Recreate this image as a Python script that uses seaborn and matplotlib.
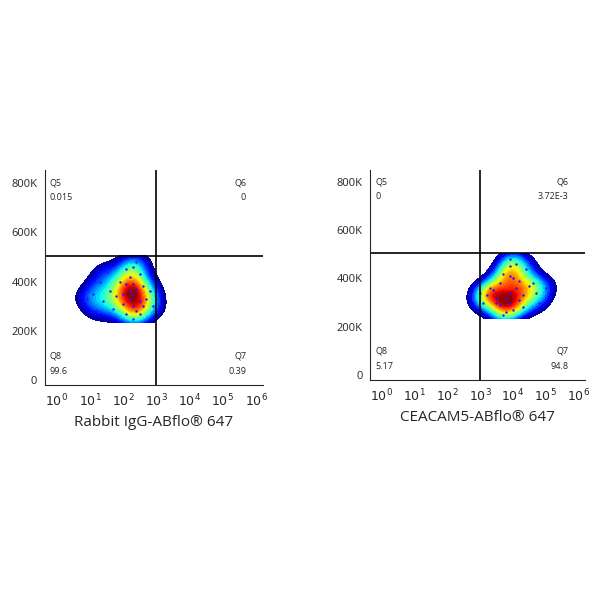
import numpy as np
import pandas as pd
import seaborn as sns
import matplotlib
matplotlib.use("Agg")
import matplotlib.pyplot as plt

sns.set_style("white")
plt.rcParams['font.family'] = ['Open Sans', 'DejaVu Sans']

# representative event positions (log10 fluorescence, FSC-like value)
left_x = [2.3, 2.2, 2.4, 2.1, 2.5, 2.3, 2.0, 2.6, 1.8, 2.2, 2.4, 1.6, 2.7, 2.3, 1.4, 2.1, 2.5, 1.9, 2.6, 1.1,
          2.3, 2.0, 2.4, 2.2, 2.8, 1.7, 2.3, 2.1, 2.5, 1.3, 0.9, 1.5, 2.9, 1.2]
left_y = [350, 330, 370, 390, 320, 300, 350, 380, 340, 420, 280, 360, 330, 460, 320, 270, 430, 400, 300, 350,
          250, 310, 480, 360, 360, 290, 390, 450, 270, 400, 330, 440, 300, 280]
right_x = [3.9, 3.8, 4.1, 3.6, 4.3, 3.9, 3.4, 4.5, 3.7, 4.0, 4.2, 3.3, 4.7, 3.9, 3.5, 4.0, 4.4, 3.2, 4.8, 3.8,
           3.9, 3.6, 4.2, 3.0, 4.6, 3.7, 4.1, 3.9, 4.3, 3.5, 5.0, 3.1]
right_y = [340, 320, 360, 380, 330, 300, 350, 370, 420, 270, 310, 360, 340, 450, 300, 400, 440, 330, 300, 260,
           480, 290, 390, 340, 380, 250, 460, 410, 280, 320, 360, 300]

quad_left = {"Q5": "0.015", "Q6": "0", "Q8": "99.6", "Q7": "0.39"}
quad_right = {"Q5": "0", "Q6": "3.72E-3", "Q8": "5.17", "Q7": "94.8"}
xlabels = ["Rabbit IgG-ABflo® 647", "CEACAM5-ABflo® 647"]

jet = matplotlib.colormaps["jet"]

fig = plt.figure(figsize=(6, 6), dpi=100)
ax1 = fig.add_axes([0.075, 0.358, 0.363, 0.358])
ax2 = fig.add_axes([0.617, 0.367, 0.358, 0.35])

for ax, xs, ys, q, lab in [(ax1, left_x, left_y, quad_left, xlabels[0]),
                           (ax2, right_x, right_y, quad_right, xlabels[1])]:
    df = pd.DataFrame({"x": xs, "y": ys})
    sns.kdeplot(data=df, x="x", y="y", ax=ax, fill=True, cmap=jet, levels=25,
                thresh=0.04, bw_adjust=1.1, clip=((-0.35, 6.2), (235, 505)))
    sns.scatterplot(data=df, x="x", y="y", ax=ax, s=3, color="#1a1aff", linewidth=0)
    ax.axvline(3.0, color="black", lw=1.2)
    ax.axhline(505, color="black", lw=1.2)
    ax.set_xlim(-0.35, 6.2)
    ax.set_ylim(-20, 850)
    ax.set_yticks([0, 200, 400, 600, 800])
    ax.set_yticklabels(["0", "200K", "400K", "600K", "800K"], fontsize=8)
    ax.set_xticks(range(7))
    ax.set_xticklabels([f"$10^{{{i}}}$" for i in range(7)], fontsize=9)
    ax.set_xlabel(lab, fontsize=11)
    ax.set_ylabel("")
    for s in ["top", "right"]:
        ax.spines[s].set_visible(False)
    ax.tick_params(length=2)
    ax.text(-0.2, 800, "Q5", fontsize=6.5, va="center")
    ax.text(-0.2, 740, q["Q5"], fontsize=6.5, va="center")
    ax.text(5.7, 800, "Q6", fontsize=6.5, va="center", ha="right")
    ax.text(5.7, 740, q["Q6"], fontsize=6.5, va="center", ha="right")
    ax.text(-0.2, 100, "Q8", fontsize=6.5, va="center")
    ax.text(-0.2, 35, q["Q8"], fontsize=6.5, va="center")
    ax.text(5.7, 100, "Q7", fontsize=6.5, va="center", ha="right")
    ax.text(5.7, 35, q["Q7"], fontsize=6.5, va="center", ha="right")

fig.savefig("out.png", dpi=100)
